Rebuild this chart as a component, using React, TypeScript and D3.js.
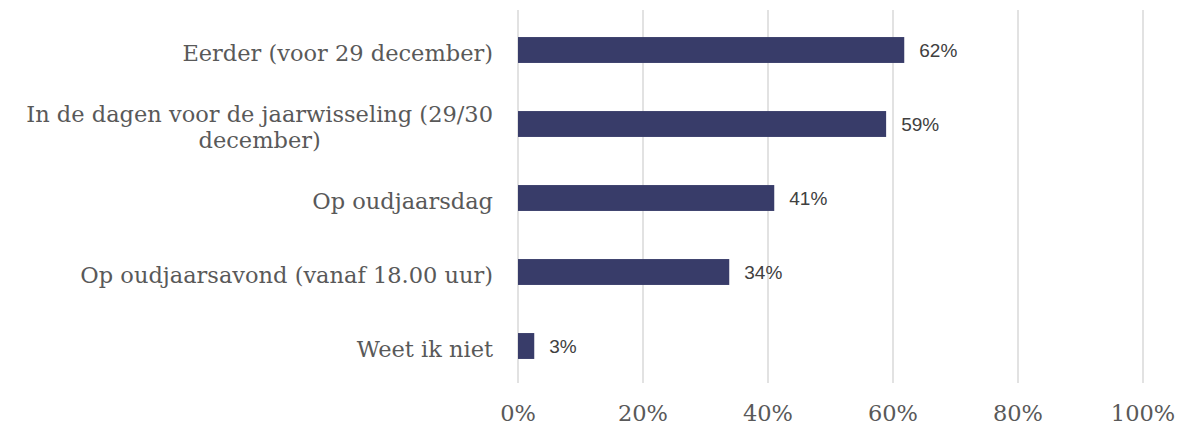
import React, { useEffect, useRef } from 'react';
import * as d3 from 'd3';

const categories: string[][] = [
  ['Eerder (voor 29 december)'],
  ['In de dagen voor de jaarwisseling (29/30', 'december)'],
  ['Op oudjaarsdag'],
  ['Op oudjaarsavond (vanaf 18.00 uur)'],
  ['Weet ik niet'],
];
const values = [61.8, 58.9, 41.0, 33.8, 2.6];
const ticks = [0, 20, 40, 60, 80, 100];

const W = 1179;
const H = 426;

const App = () => {
  const ref = useRef<SVGSVGElement>(null);

  useEffect(() => {
    const svg = d3.select(ref.current);
    svg.selectAll('*').remove();

    const x = d3.scaleLinear().domain([0, 100]).range([518, 1143]);
    const y = d3
      .scaleBand<number>()
      .domain(values.map((_, i) => i))
      .range([13, 383])
      .paddingInner(0.65)
      .paddingOuter(0.325);

    // gridlines
    svg
      .append('g')
      .selectAll('line')
      .data(ticks)
      .enter()
      .append('line')
      .attr('x1', (d) => x(d))
      .attr('x2', (d) => x(d))
      .attr('y1', 10)
      .attr('y2', 383)
      .attr('stroke', '#d9d9d9')
      .attr('stroke-width', 1.5);

    // bars
    svg
      .append('g')
      .selectAll('rect')
      .data(values)
      .enter()
      .append('rect')
      .attr('x', x(0))
      .attr('y', (_, i) => y(i)!)
      .attr('width', (d) => x(d) - x(0))
      .attr('height', y.bandwidth())
      .attr('fill', '#383c69');

    // value labels
    svg
      .append('g')
      .selectAll('text')
      .data(values)
      .enter()
      .append('text')
      .attr('x', (d) => x(d) + 15)
      .attr('y', (_, i) => y(i)! + y.bandwidth() / 2)
      .attr('dy', '0.35em')
      .attr('font-family', 'Liberation Sans, sans-serif')
      .attr('font-size', 19)
      .attr('fill', '#404040')
      .text((d) => Math.round(d) + '%');

    // tick labels
    svg
      .append('g')
      .selectAll('text')
      .data(ticks)
      .enter()
      .append('text')
      .attr('x', (d) => x(d))
      .attr('y', 421)
      .attr('text-anchor', 'middle')
      .attr('font-family', 'DejaVu Serif, serif')
      .attr('font-size', 22.5)
      .attr('fill', '#595959')
      .text((d) => d + '%');

    // category labels, wrapped lines centered under the first one
    const lineH = 26;
    categories.forEach((lines, i) => {
      const cy = y(i)! + y.bandwidth() / 2 + 3;
      const top = cy - ((lines.length - 1) * lineH) / 2;
      const t = svg
        .append('text')
        .attr('font-family', 'DejaVu Serif, serif')
        .attr('font-size', 22.5)
        .attr('fill', '#595959');
      const first = t
        .append('tspan')
        .attr('x', 493)
        .attr('y', top)
        .attr('dy', '0.35em')
        .attr('text-anchor', 'end')
        .text(lines[0]);
      const w = (first.node() as SVGTSpanElement).getComputedTextLength();
      lines.slice(1).forEach((l, j) => {
        t.append('tspan')
          .attr('x', 493 - w / 2)
          .attr('y', top + (j + 1) * lineH)
          .attr('dy', '0.35em')
          .attr('text-anchor', 'middle')
          .text(l);
      });
    });
  }, []);

  return (
    <svg
      ref={ref}
      width={W}
      height={H}
      style={{ position: 'absolute', left: 0, top: 0, background: '#fff' }}
    />
  );
};

export default App;
